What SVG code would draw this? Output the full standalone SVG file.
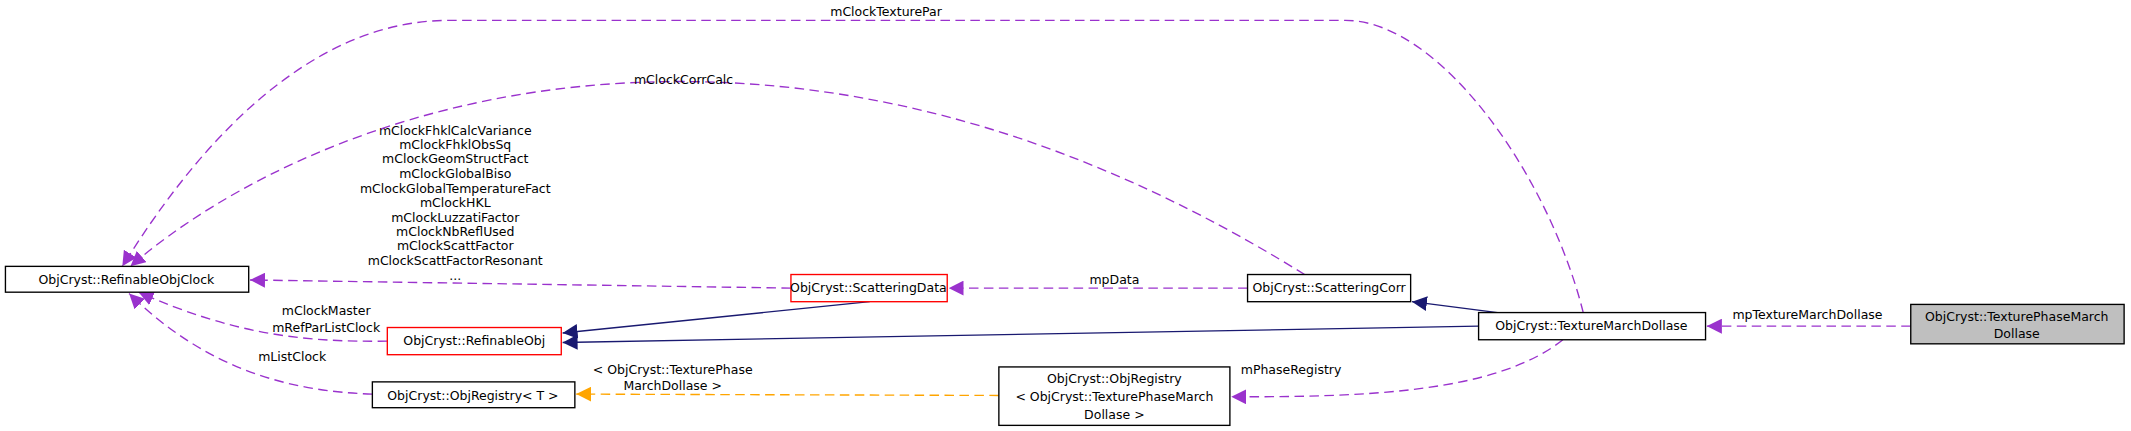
<svg xmlns="http://www.w3.org/2000/svg" width="2131" height="431" viewBox="0 0 2131 431">
<style>
text{font-family:"DejaVu Sans",sans-serif;font-size:9.2px;fill:#000}
.n{fill:#fff;stroke:#000;stroke-width:1}
.r{fill:#fff;stroke:#ff0000;stroke-width:1}
.g{fill:#bfbfbf;stroke:#000;stroke-width:1}
.d{fill:none;stroke:#9a32cd;stroke-dasharray:7,4}
.o{fill:none;stroke:#ffa500;stroke-dasharray:7,4}
.s{fill:none;stroke:#191970}
</style>
<defs>
<marker id="ap" viewBox="0 0 10 10" refX="10" refY="5" markerWidth="11" markerHeight="11" markerUnits="userSpaceOnUse" orient="auto"><path d="M0,0L10,5L0,10z" fill="#9a32cd"/></marker>
<marker id="ao" viewBox="0 0 10 10" refX="10" refY="5" markerWidth="11" markerHeight="11" markerUnits="userSpaceOnUse" orient="auto"><path d="M0,0L10,5L0,10z" fill="#ffa500"/></marker>
<marker id="an" viewBox="0 0 10 10" refX="10" refY="5" markerWidth="11" markerHeight="11" markerUnits="userSpaceOnUse" orient="auto"><path d="M0,0L10,5L0,10z" fill="#191970"/></marker>
</defs>
<rect width="2131" height="431" fill="#fff"/>
<g transform="scale(1.359)">
<g id="connectors" text-anchor="middle">
<path class="d" marker-end="url(#ap)" d="M1406,240L1256,240"/>
<text x="1330" y="235">mpTextureMarchDollase</text>
<path class="s" marker-end="url(#an)" d="M1102,230L1039,222"/>
<path class="s" marker-end="url(#an)" d="M1088,240L414,252"/>
<path class="s" marker-end="url(#an)" d="M640,222L414,245"/>
<path class="d" marker-end="url(#ap)" d="M918,212L698,212"/>
<text x="820" y="209">mpData</text>
<path class="d" marker-end="url(#ap)" d="M582,212L184,206"/>
<text x="335" y="99">mClockFhklCalcVariance</text>
<text x="335" y="110">mClockFhklObsSq</text>
<text x="335" y="120">mClockGeomStructFact</text>
<text x="335" y="131">mClockGlobalBiso</text>
<text x="335" y="142">mClockGlobalTemperatureFact</text>
<text x="335" y="152">mClockHKL</text>
<text x="335" y="163">mClockLuzzatiFactor</text>
<text x="335" y="174">mClockNbReflUsed</text>
<text x="335" y="184">mClockScattFactor</text>
<text x="335" y="195">mClockScattFactorResonant</text>
<text x="335" y="206">...</text>
<path class="d" marker-end="url(#ap)" d="M1165,230C1140,130 1060,15 990,15L330,15C210,15 125,140 90,196"/>
<text x="652" y="12">mClockTexturePar</text>
<path class="d" marker-end="url(#ap)" d="M960,202C860,140 700,60 500,60C300,60 160,140 96,196"/>
<text x="503" y="62">mClockCorrCalc</text>
<path class="d" marker-end="url(#ap)" d="M285,251C220,252 170,245 102,215"/>
<text x="240" y="232">mClockMaster</text>
<text x="240" y="244">mRefParListClock</text>
<path class="d" marker-end="url(#ap)" d="M274,290C210,288 150,270 95,216"/>
<text x="215" y="266">mListClock</text>
<path class="o" marker-end="url(#ao)" d="M735,291L424,290"/>
<text x="495" y="275">&lt; ObjCryst::TexturePhase</text>
<text x="495" y="287">MarchDollase &gt;</text>
<path class="d" marker-end="url(#ap)" d="M1150,250C1100,290 1000,292 906,292"/>
<text x="950" y="275">mPhaseRegistry</text>
</g>
<g text-anchor="middle">
<g id="clock"><rect class="n" x="4" y="196" width="179" height="19"/><text x="93" y="209">ObjCryst::RefinableObjClock</text></g>
<g id="scatdata"><rect class="r" x="582" y="202" width="115" height="20"/><text x="639" y="215">ObjCryst::ScatteringData</text></g>
<g id="scatcorr"><rect class="n" x="918" y="202" width="120" height="20"/><text x="978" y="215">ObjCryst::ScatteringCorr</text></g>
<g id="refobj"><rect class="r" x="285" y="241" width="128" height="20"/><text x="349" y="254">ObjCryst::RefinableObj</text></g>
<g id="objreg"><rect class="n" x="274" y="281" width="149" height="19"/><text x="348" y="294">ObjCryst::ObjRegistry&lt; T &gt;</text></g>
<g id="tmd"><rect class="n" x="1088" y="230" width="167" height="20"/><text x="1171" y="243">ObjCryst::TextureMarchDollase</text></g>
<g id="objregtex"><rect class="n" x="735" y="270" width="170" height="43"/><text x="820" y="282">ObjCryst::ObjRegistry</text><text x="820" y="295">&lt; ObjCryst::TexturePhaseMarch</text><text x="820" y="308">Dollase &gt;</text></g>
<g id="tpmd"><rect class="g" x="1406" y="224" width="157" height="29"/><text x="1484" y="236">ObjCryst::TexturePhaseMarch</text><text x="1484" y="249">Dollase</text></g>
</g>
</g>
</svg>
